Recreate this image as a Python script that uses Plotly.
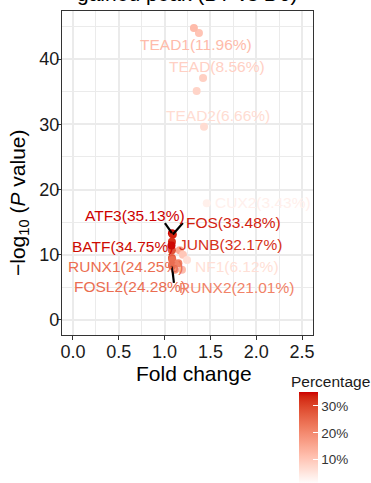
import plotly.graph_objects as go
import numpy as np

# ---------------- data ----------------
labeled_names = ["TEAD1", "TEAD", "TEAD2", "CUX2", "ATF3", "FOS", "JUNB", "BATF",
                 "RUNX1", "NF1", "FOSL2", "RUNX2"]
labeled_fc = [1.32, 1.42, 1.43, 1.46, 1.08, 1.09, 1.08, 1.075, 1.085, 1.245, 1.08, 1.15]
labeled_logp = [44.75, 37.1, 29.6, 17.9, 13.3, 13.1, 12.0, 11.4, 9.2, 9.2, 8.3, 8.7]
labeled_pct = [11.96, 8.56, 6.66, 3.43, 35.13, 33.48, 32.17, 34.75, 24.25, 6.12, 24.28, 21.01]

other_fc = [1.375, 1.35, 1.165, 1.2, 1.19, 1.11, 1.08, 1.08]
other_logp = [44.0, 35.1, 10.7, 10.0, 7.7, 7.7, 10.7, 9.5]
other_pct = [10.5, 8.0, 15.0, 10.0, 12.0, 18.0, 28.0, 27.0]

x_ticks = [0.0, 0.5, 1.0, 1.5, 2.0, 2.5]
y_ticks = [0, 10, 20, 30, 40]
cbar_ticks = [10, 20, 30]

# ---------------- layout constants ----------------
W, H = 371, 483
ML, MR, MT, MB = 62, 58, 11, 148
XR = [-0.120, 2.620]
YR = [-2.30, 47.36]
PW = W - ML - MR
PH = H - MT - MB
px_per_x = PW / (XR[1] - XR[0])
px_per_y = PH / (YR[1] - YR[0])


def paper_x(px):
    return (px - ML) / PW


def paper_y(py):
    return (PH + MT - py) / PH


CMIN, CMAX = 1.0, 35.13

# label offsets (pixels, label centre relative to point; +y down)
label_off = {
    "TEAD1": (2, 16), "TEAD": (14, -11), "TEAD2": (14, -11), "CUX2": (56, -1),
    "ATF3": (-37, -18), "FOS": (61, -12), "JUNB": (59, 3), "BATF": (-49, 1),
    "RUNX1": (-47, 7), "NF1": (50, 7), "FOSL2": (-42, 21), "RUNX2": (58, 24),
}
# repel segments (pixel offset of segment end from point; +y down)
seg_off = {"ATF3": (-7, -10), "FOS": (10, -11.5), "FOSL2": (2, 17)}


# ---------------- colour scale (Lab interpolation white -> red3) ----------------
def _srgb2lin(c):
    c = c / 255.0
    return np.where(c <= 0.04045, c / 12.92, ((c + 0.055) / 1.055) ** 2.4)


def _lin2srgb(c):
    c = np.clip(c, 0, 1)
    return np.where(c <= 0.0031308, 12.92 * c, 1.055 * c ** (1 / 2.4) - 0.055) * 255


M = np.array([[0.4124, 0.3576, 0.1805], [0.2126, 0.7152, 0.0722], [0.0193, 0.1192, 0.9505]])
Minv = np.linalg.inv(M)
WP = np.array([0.95047, 1.0, 1.08883])


def rgb2lab(rgb):
    xyz = M @ _srgb2lin(np.array(rgb, float)) / WP
    f = np.where(xyz > 0.008856, np.cbrt(xyz), 7.787 * xyz + 16 / 116)
    return np.array([116 * f[1] - 16, 500 * (f[0] - f[1]), 200 * (f[1] - f[2])])


def lab2rgb(lab):
    fy = (lab[0] + 16) / 116
    fx = fy + lab[1] / 500
    fz = fy - lab[2] / 200
    f = np.array([fx, fy, fz])
    xyz = np.where(f ** 3 > 0.008856, f ** 3, (f - 16 / 116) / 7.787) * WP
    return _lin2srgb(Minv @ xyz)


LOW = rgb2lab([255, 255, 255])
HIGH = rgb2lab([205, 0, 0])


def col_at(t):
    r, g, b = lab2rgb(LOW + (HIGH - LOW) * t)
    return f"rgb({int(round(r))},{int(round(g))},{int(round(b))})"


def col_for(p):
    return col_at((p - CMIN) / (CMAX - CMIN))


colorscale = [[t, col_at(t)] for t in np.linspace(0, 1, 21)]

FONT = "Liberation Sans, Arial, sans-serif"

fig = go.Figure()

# points
all_fc = other_fc + labeled_fc
all_logp = other_logp + labeled_logp
all_pct = other_pct + labeled_pct
fig.add_trace(go.Scatter(
    x=all_fc, y=all_logp, mode="markers",
    marker=dict(
        size=8, color=all_pct, colorscale=colorscale, cmin=CMIN, cmax=CMAX,
        line=dict(width=0),
        colorbar=dict(
            x=paper_x(299), xanchor="left", xref="paper",
            y=paper_y(392), yanchor="top", yref="paper",
            len=(CMAX - CMIN) * 2.7, lenmode="pixels",
            thickness=19, thicknessmode="pixels",
            xpad=0, ypad=0, outlinewidth=0,
            tickvals=cbar_ticks, ticktext=[f"{v}%" for v in cbar_ticks],
            ticks="inside", ticklen=5, tickcolor="white", tickwidth=1,
            tickfont=dict(size=13.5, color="#333333", family=FONT),
        ),
    ),
    showlegend=False, hoverinfo="skip",
))

# segments
for name, (sx, sy) in seg_off.items():
    i = labeled_names.index(name)
    x0, y0 = labeled_fc[i], labeled_logp[i]
    fig.add_trace(go.Scatter(
        x=[x0, x0 + sx / px_per_x], y=[y0, y0 - sy / px_per_y],
        mode="lines", line=dict(color="black", width=2.2),
        showlegend=False, hoverinfo="skip",
    ))

# labels
for name, x, y, p in zip(labeled_names, labeled_fc, labeled_logp, labeled_pct):
    dx, dy = label_off[name]
    fig.add_annotation(
        x=x, y=y, xref="x", yref="y", text=f"{name}({p:.2f}%)",
        showarrow=False, xshift=dx, yshift=-dy,
        font=dict(size=15.5, color=col_for(p), family=FONT),
        xanchor="center", yanchor="middle",
    )

# (cropped) title
fig.add_annotation(
    x=0.5, y=1 + (MT - 7) / PH, xref="paper", yref="paper",
    text="gained peak (D7 vs D0)", showarrow=False,
    xanchor="center", yanchor="bottom",
    font=dict(size=21, color="black", family=FONT),
)

# axis titles
fig.add_annotation(
    x=paper_x(194), y=paper_y(373), xref="paper", yref="paper",
    text="Fold change", showarrow=False, xanchor="center", yanchor="middle",
    font=dict(size=21, color="black", family=FONT),
)
fig.add_annotation(
    x=paper_x(19), y=paper_y(203), xref="paper", yref="paper",
    text="\u2212log<sub>10</sub> (<i>P</i> value)", showarrow=False,
    xanchor="center", yanchor="middle", textangle=-90,
    font=dict(size=21, color="black", family=FONT),
)
# colourbar title
fig.add_annotation(
    x=paper_x(289), y=paper_y(381), xref="paper", yref="paper",
    text="Percentage", showarrow=False, xanchor="left", yanchor="middle",
    font=dict(size=15.5, color="#1a1a1a", family=FONT),
)

axis_common = dict(
    showline=True, mirror=True, linecolor="#333333", linewidth=1.3,
    ticks="outside", ticklen=4, tickwidth=1.3, tickcolor="#333333",
    showgrid=True, gridcolor="#EBEBEB", gridwidth=2, zeroline=False,
    tickfont=dict(size=18, color="#1a1a1a", family=FONT),
)

fig.update_xaxes(
    range=XR, tickvals=x_ticks, ticktext=[f"{v:.1f}" for v in x_ticks],
    ticklabelstandoff=-4,
    minor=dict(tickvals=[0.25, 0.75, 1.25, 1.75, 2.25], showgrid=True, gridcolor="#EBEBEB", gridwidth=1, ticks=""),
    **axis_common,
)
fig.update_yaxes(
    range=YR, tickvals=y_ticks, ticktext=[str(v) for v in y_ticks],
    ticklabelstandoff=-6,
    minor=dict(tickvals=[5, 15, 25, 35, 45], showgrid=True, gridcolor="#EBEBEB", gridwidth=1, ticks=""),
    **axis_common,
)

fig.update_layout(
    width=W, height=H,
    margin=dict(l=ML, r=MR, t=MT, b=MB, autoexpand=False),
    paper_bgcolor="white", plot_bgcolor="white",
    font=dict(family=FONT),
)

fig.write_html("out.html", config={"displayModeBar": False},
               post_script="document.body.style.margin='0';")
